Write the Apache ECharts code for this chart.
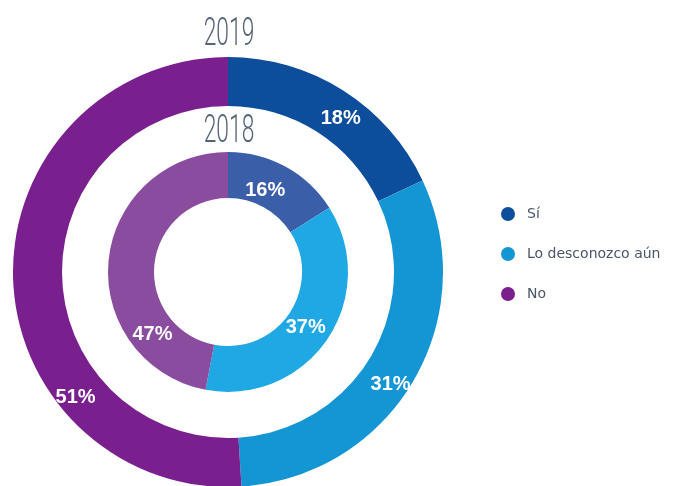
<!DOCTYPE html>
<html>
<head>
<meta charset="utf-8">
<script src="https://cdn.jsdelivr.net/npm/echarts@6/dist/echarts.min.js"></script>
<style>html,body{margin:0;padding:0;background:#fff;}#c{width:700px;height:486px;}</style>
</head>
<body>
<div id="c"></div>
<script>
var categories = ['Sí', 'Lo desconozco aún', 'No'];
var values2019 = [18, 31, 51];
var values2018 = [16, 37, 47];
var titles = ['2019', '2018'];

var colors2019 = ['#0c4e9c', '#1596d4', '#7a1f8e'];
var colors2018 = ['#3a5ea8', '#1fa8e4', '#8a4c9f'];
var offsets2019 = [[9, 10], [-4, 14], [41, 119]];
var offsets2018 = [[-11, 6], [-5, -1], [24, 72]];

function build(vals, cols, offs) {
  return vals.map(function (v, i) {
    return {
      name: categories[i], value: v,
      itemStyle: { color: cols[i] },
      label: { offset: offs[i] }
    };
  });
}

function titleText(t, y) {
  return {
    type: 'text', x: 229, y: y, scaleX: 0.6, scaleY: 1, silent: true,
    style: { text: t, x: 0, y: 0, align: 'center', verticalAlign: 'middle',
      font: '300 38px Roboto', fill: '#56647a' }
  };
}

var chart = echarts.init(document.getElementById('c'));
chart.setOption({
  animation: false,
  graphic: [titleText(titles[0], 35), titleText(titles[1], 132)],
  legend: {
    orient: 'vertical', left: 496, top: 202,
    data: categories,
    icon: 'circle', itemWidth: 14, itemHeight: 14, itemGap: 26,
    textStyle: { fontFamily: 'DejaVu Sans', fontSize: 14, color: '#4a5568', padding: [0, 0, 0, 7] },
    itemStyle: { borderWidth: 0 }
  },
  series: [
    {
      type: 'pie', name: titles[0], center: [228, 272], radius: [166, 215],
      startAngle: 90, clockwise: true, silent: true,
      label: { position: 'inside', color: '#fff', fontFamily: 'Liberation Sans', fontWeight: 'bold', fontSize: 20, formatter: '{c}%' },
      labelLine: { show: false },
      data: build(values2019, colors2019, offsets2019)
    },
    {
      type: 'pie', name: titles[1], center: [228, 272], radius: [74, 120],
      startAngle: 90, clockwise: true, silent: true,
      label: { position: 'inside', color: '#fff', fontFamily: 'Liberation Sans', fontWeight: 'bold', fontSize: 20, formatter: '{c}%' },
      labelLine: { show: false },
      data: build(values2018, colors2018, offsets2018)
    }
  ]
});
</script>
</body>
</html>
